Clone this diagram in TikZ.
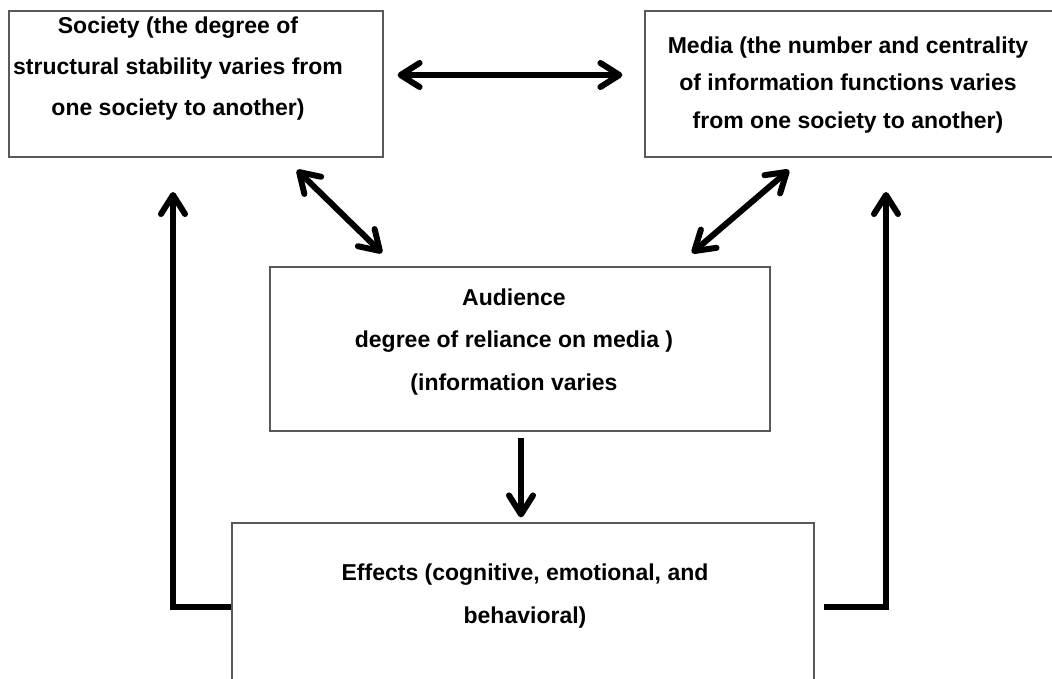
\documentclass[tikz,border=0pt]{standalone}
\usepackage{fontspec}
\setmainfont{Liberation Sans}
\usetikzlibrary{arrows.meta,calc,positioning}
\tikzset{
  box/.style={draw=black!65,line width=1.2pt,inner sep=0pt},
  txt/.style={align=center,inner sep=0pt,font=\bfseries\fontsize{23}{41}\selectfont},
  arrow/.style={>={Straight Barb[length=19pt,width=24pt,round]},->,line width=6pt},
  dblarrow/.style={arrow,<->},
  feedback/.style={arrow,line join=miter}
}
\begin{document}
\begin{tikzpicture}[x=1pt,y=-1pt]
\useasboundingbox (0,0) rectangle (1052,679);
% the four boxes
\node[box,minimum width=374,minimum height=146] (society) at (196,84) {};
\node[box,minimum width=411,minimum height=146] (media) at (850.5,84) {};
\node[box,minimum width=500,minimum height=164] (audience) at (520,349) {};
\node[box,minimum width=582,minimum height=177] (effects) at (523,611.5) {};
% their texts
\node[txt] (societytxt) at (178,69) {Society (the degree of\\structural stability varies from\\one society to another)};
\node[txt,font=\bfseries\fontsize{23}{37.5}\selectfont] (mediatxt) at (848,85) {Media (the number and centrality\\of information functions varies\\from one society to another)};
\node[txt,font=\bfseries\fontsize{23}{42.5}\selectfont] (audiencetxt) at (514,342) {Audience\\degree of reliance on media )\\(information varies};
\node[txt,font=\bfseries\fontsize{23}{43}\selectfont] (effectstxt) at (525,596) {Effects (cognitive, emotional, and\\behavioral)};
% free ends of the diagonal arrows
\coordinate (sa1) at (297,170);
\coordinate (sa2) at (382,253);
\coordinate (ma1) at (789,170);
\coordinate (ma2) at (692,253);
\coordinate (lup) at (173,192);
\coordinate (rup) at (886,192);
% society <-> media
\draw[dblarrow,shorten <=14pt,shorten >=22pt] ([yshift=9pt]society.east) -- ([yshift=9pt]media.west);
% society/media <-> audience
\draw[dblarrow] (sa1) -- (sa2);
\draw[dblarrow] (ma1) -- (ma2);
% audience -> effects
\draw[arrow,shorten <=6pt,shorten >=5pt] ([xshift=1pt]audience.south) -- ([xshift=-2pt]effects.north);
% effects back to society and media
\draw[feedback] ([yshift=4.5pt]effects.west) -| (lup);
\draw[feedback] ([xshift=9pt,yshift=4.5pt]effects.east) -| (rup);
\end{tikzpicture}
\end{document}
